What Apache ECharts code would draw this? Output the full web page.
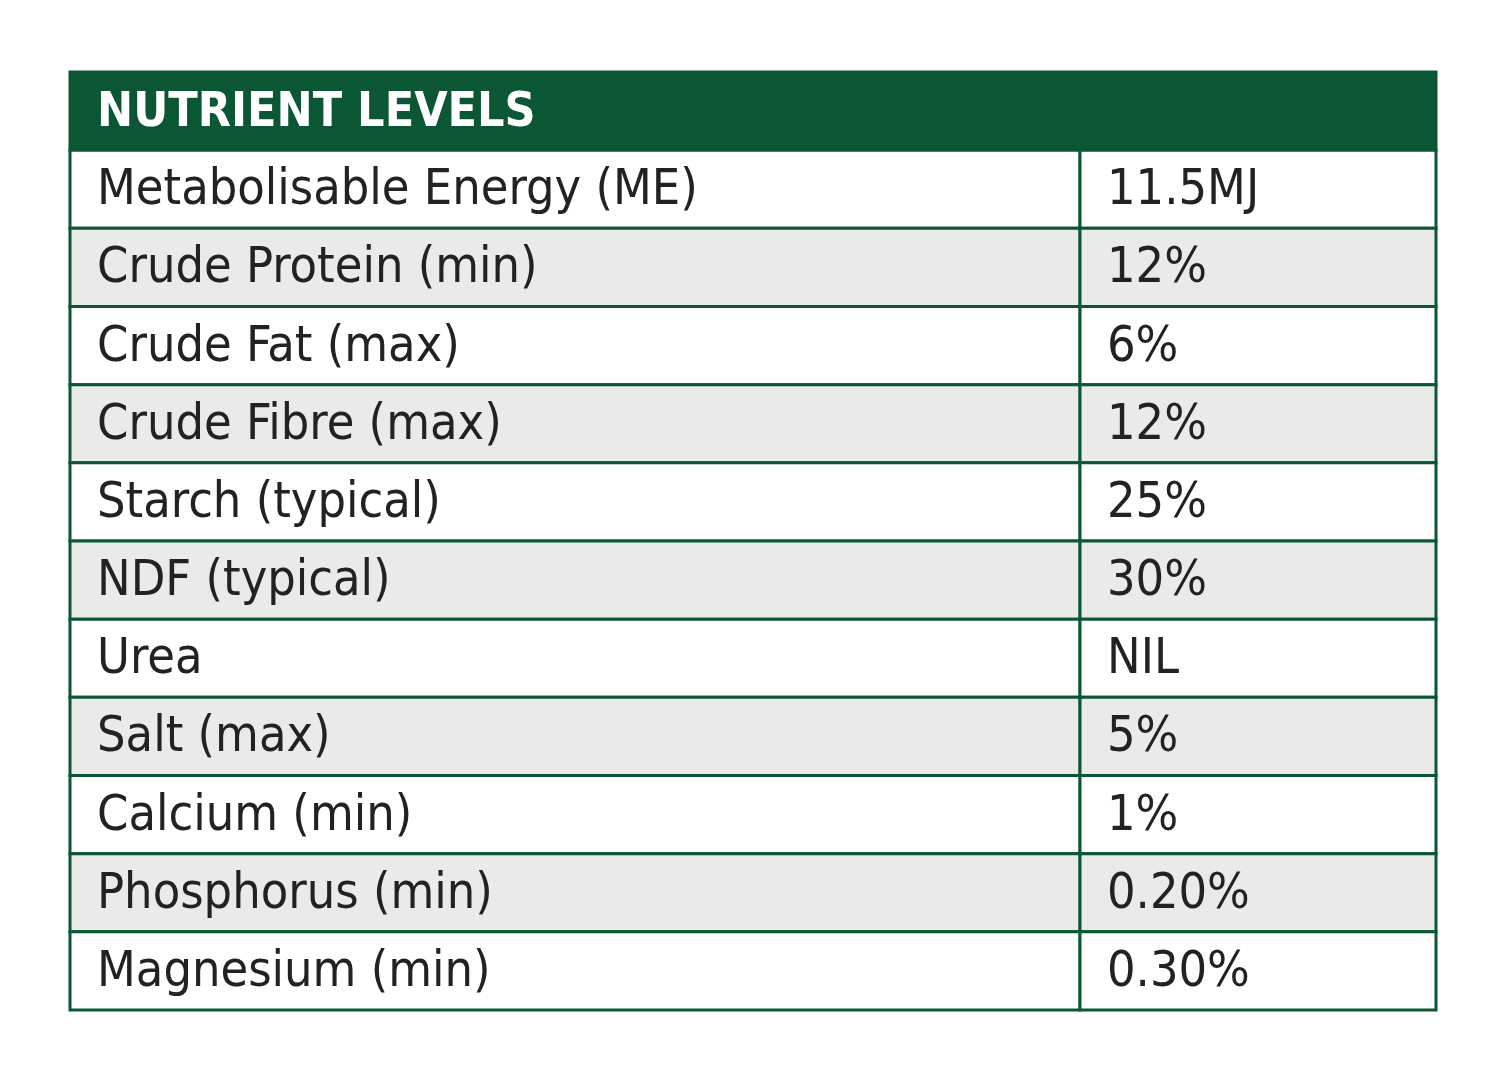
<!DOCTYPE html>
<html><head><meta charset="utf-8">
<script src="https://cdn.jsdelivr.net/npm/echarts@6/dist/echarts.min.js"></script>
<style>html,body{margin:0;background:#fff}#c{width:1500px;height:1076px}</style>
</head><body><div id="c"></div>
<script>
var title = 'NUTRIENT LEVELS';
var nutrients = ['Metabolisable Energy (ME)', 'Crude Protein (min)', 'Crude Fat (max)', 'Crude Fibre (max)',
  'Starch (typical)', 'NDF (typical)', 'Urea', 'Salt (max)', 'Calcium (min)', 'Phosphorus (min)', 'Magnesium (min)'];
var levels = ['11.5MJ', '12%', '6%', '12%', '25%', '30%', 'NIL', '5%', '1%', '0.20%', '0.30%'];

var green = '#0b5633';
var font = '"Liberation Sans Narrow", "DejaVu Sans Condensed", sans-serif';
var split = (1080 - 70) / 1366;   // column divider as fraction of width

var rows = [title].concat(nutrients);
var chart = echarts.init(document.getElementById('c'));

chart.setOption({
  animation: false,
  grid: { left: 70, right: 64, top: 72, bottom: 66 },
  xAxis: { type: 'value', min: 0, max: 1, show: false },
  yAxis: { type: 'category', data: rows, inverse: true, show: false },
  series: [{
    type: 'custom',
    data: rows.map(function (r, i) { return [i]; }),
    renderItem: function (params, api) {
      var i = params.dataIndex;
      var p0 = api.coord([0, i]);
      var p1 = api.coord([split, i]);
      var p2 = api.coord([1, i]);
      var h = api.size([0, 1])[1];
      var y = p0[1] - h / 2;
      if (i === 0) {
        return { type: 'group', children: [
          { type: 'rect', shape: { x: p0[0], y: y, width: p2[0] - p0[0], height: h },
            style: { fill: green, stroke: green, lineWidth: 3 } },
          { type: 'text', x: p0[0] + 27, y: p0[1] + 2,
            style: { text: title, fill: '#fff', font: 'bold 48px ' + font, verticalAlign: 'middle' } }
        ] };
      }
      var fill = i % 2 === 0 ? '#e9ebe8' : '#fff';
      return { type: 'group', children: [
        { type: 'rect', shape: { x: p0[0], y: y, width: p1[0] - p0[0], height: h },
          style: { fill: fill, stroke: green, lineWidth: 3 } },
        { type: 'rect', shape: { x: p1[0], y: y, width: p2[0] - p1[0], height: h },
          style: { fill: fill, stroke: green, lineWidth: 3 } },
        { type: 'text', x: p0[0] + 27, y: p0[1] + 2,
          style: { text: nutrients[i - 1], fill: '#222', font: '50px ' + font, verticalAlign: 'middle' } },
        { type: 'text', x: p1[0] + 27, y: p0[1] + 2,
          style: { text: levels[i - 1], fill: '#222', font: '50px ' + font, verticalAlign: 'middle' } }
      ] };
    }
  }]
});
</script></body></html>
